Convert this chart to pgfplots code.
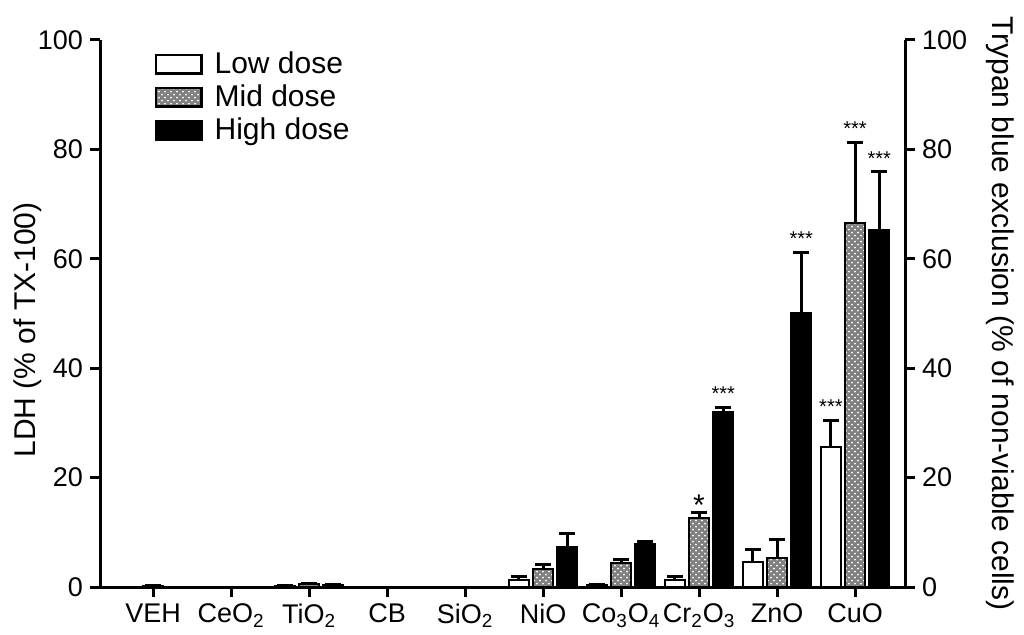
\documentclass[border=0pt]{standalone}
\usepackage{fontspec}
\setmainfont{Liberation Sans}
\usepackage{pgfplots}
\pgfplotsset{compat=1.18}
\usetikzlibrary{patterns}

\pgfplotsset{
  common/.style={
    width=402.5pt, height=273.5pt, scale only axis,
    xmin=-0.68, xmax=9.64, ymin=0, ymax=100,
    ytick={0,20,40,60,80,100},
    tick align=outside, major tick length=5pt,
    tick style={line width=1.5pt, black},
    axis line style={line width=1.5pt},
    /pgf/number format/assume math mode=true,
    tick label style={font=\fontsize{13.5}{15}\selectfont},
    label style={font=\fontsize{15}{17}\selectfont},
  },
  errs/.style={error bars/.cd, y dir=plus, y explicit,
    error bar style={line width=1.5pt, black},
    error mark options={rotate=90, mark size=4pt, line width=1.5pt, black}},
}

\begin{document}
\begin{tikzpicture}
\begin{axis}[
  common, name=ax,
  axis x line*=bottom, axis y line*=left,
  ybar, bar width=0.26,
  xtick={0,...,9},
  xticklabels={VEH, CeO\textsubscript{2}, TiO\textsubscript{2}, CB, SiO\textsubscript{2}, NiO, Co\textsubscript{3}O\textsubscript{4}, Cr\textsubscript{2}O\textsubscript{3}, ZnO, CuO},
  ylabel={LDH (\% of TX-100)},
  ylabel style={at={(axis description cs:-0.09,0.47)}, anchor=center},
  legend style={at={(axis description cs:0.06,0.99)}, anchor=north west,
    draw=none, fill=none, font=\fontsize{15}{15}\selectfont, row sep=2.2pt,
    nodes={inner xsep=6pt, inner ysep=1pt}},
  legend cell align=left,
  legend image code/.code={\draw[#1, line width=1.2pt] (0cm,-0.16cm) rectangle (0.8cm,0.16cm);},
]
\addplot[draw=black, line width=1pt, fill=white, bar shift=-0.31, errs] coordinates {
  (0,0) (1,0) (2,0.2) +- (0,0.1) (3,0) (4,0)
  (5,1.2) +- (0,0.8) (6,0.3) +- (0,0.1) (7,1.2) +- (0,0.7)
  (8,4.6) +- (0,2.3) (9,25.6) +- (0,4.9)
};
\addlegendentry{Low dose}
\addplot[draw=black, line width=1pt, fill=black!50, postaction={pattern=crosshatch dots, pattern color=white}, bar shift=0, errs] coordinates {
  (0,0.15) +- (0,0.05) (1,0) (2,0.5) +- (0,0.2) (3,0) (4,0)
  (5,3.2) +- (0,1.0) (6,4.4) +- (0,0.7) (7,12.7) +- (0,1.0)
  (8,5.3) +- (0,3.3) (9,66.5) +- (0,14.8)
};
\addlegendentry{Mid dose}
\addplot[draw=black, line width=1pt, fill=black, bar shift=0.31, errs] coordinates {
  (0,0) (1,0) (2,0.3) +- (0,0.1) (3,0) (4,0)
  (5,7.3) +- (0,2.4) (6,7.8) +- (0,0.6) (7,32.0) +- (0,0.8)
  (8,50.1) +- (0,11.1) (9,65.3) +- (0,10.6)
};
\addlegendentry{High dose}

\node[font=\fontsize{10}{10}\selectfont] at (axis cs:7.31,35.3) {***};
\node[font=\fontsize{10}{10}\selectfont] at (axis cs:8.31,63.7) {***};
\node[font=\fontsize{10}{10}\selectfont] at (axis cs:8.69,33.0) {***};
\node[font=\fontsize{10}{10}\selectfont] at (axis cs:9.00,83.8) {***};
\node[font=\fontsize{10}{10}\selectfont] at (axis cs:9.31,78.4) {***};
\node[font=\fontsize{15}{15}\selectfont] at (axis cs:7.00,15.0) {*};
\end{axis}

\begin{axis}[
  common,
  axis x line=none, axis y line*=right,
  ylabel={Trypan blue exclusion (\% of non-viable cells)},
  ylabel style={at={(axis description cs:1.118,0.5)}, anchor=center, rotate=180},
]
\addplot[draw=none] coordinates {(0,0)};
\end{axis}

\path (ax.south west) ++(-50pt,-21.5pt) (ax.north east) ++(59.5pt,20pt);
\end{tikzpicture}
\end{document}
